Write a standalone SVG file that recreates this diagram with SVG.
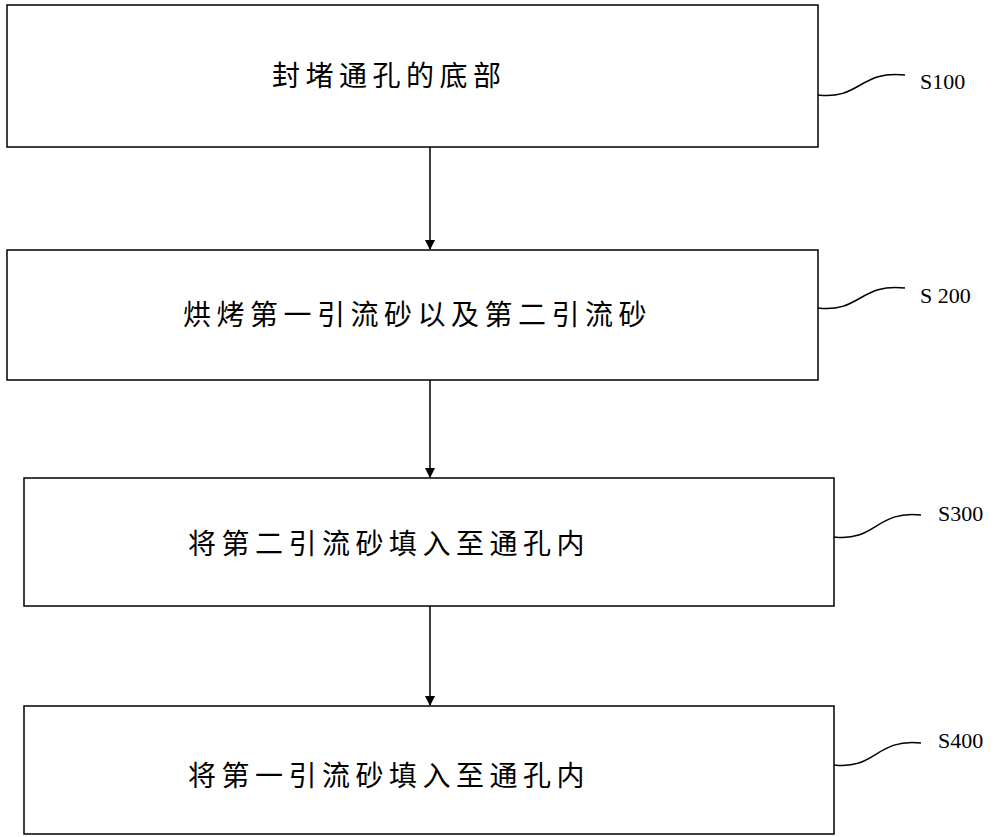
<svg xmlns="http://www.w3.org/2000/svg" width="1000" height="837" viewBox="0 0 1000 837">
<style>
.b{fill:#fff;stroke:#000;stroke-width:1.5}
.t{font-family:"Noto Sans CJK SC","Noto Sans",sans-serif;font-size:28px;letter-spacing:5.5px;fill:#000}
.l{font-family:"Liberation Serif",serif;font-size:22px;fill:#000}
.c{fill:none;stroke:#000;stroke-width:1.5}
</style>
<defs><marker id="a" markerWidth="10" markerHeight="10" refX="9" refY="5" orient="auto" markerUnits="userSpaceOnUse"><path d="M0,0 L10,5 L0,10 Z" fill="#000"/></marker></defs>
<rect width="1000" height="837" fill="#fff"/>
<g id="n1"><rect class="b" x="7" y="5" width="811" height="142"/><text class="t" x="272" y="86">封堵通孔的底部</text><path class="c" d="M818,95 C860,100 860,70 905,75"/><text class="l" x="920" y="89">S100</text></g>
<g id="n2"><rect class="b" x="7" y="250" width="811" height="130"/><text class="t" x="183" y="325">烘烤第一引流砂以及第二引流砂</text><path class="c" d="M818,308 C860,313 860,283 905,288"/><text class="l" x="920" y="303">S 200</text></g>
<g id="n3"><rect class="b" x="24" y="478" width="810" height="128"/><text class="t" x="188" y="554">将第二引流砂填入至通孔内</text><path class="c" d="M834,537 C876,542 876,510 921,515"/><text class="l" x="938" y="521">S300</text></g>
<g id="n4"><rect class="b" x="24" y="706" width="810" height="128"/><text class="t" x="188" y="786">将第一引流砂填入至通孔内</text><path class="c" d="M834,765 C876,770 876,738 921,743"/><text class="l" x="938" y="748">S400</text></g>
<g id="edges" class="c"><line class="c" x1="430" y1="147" x2="430" y2="249" marker-end="url(#a)"/><line class="c" x1="430" y1="380" x2="430" y2="477" marker-end="url(#a)"/><line class="c" x1="430" y1="606" x2="430" y2="705" marker-end="url(#a)"/></g>
</svg>
